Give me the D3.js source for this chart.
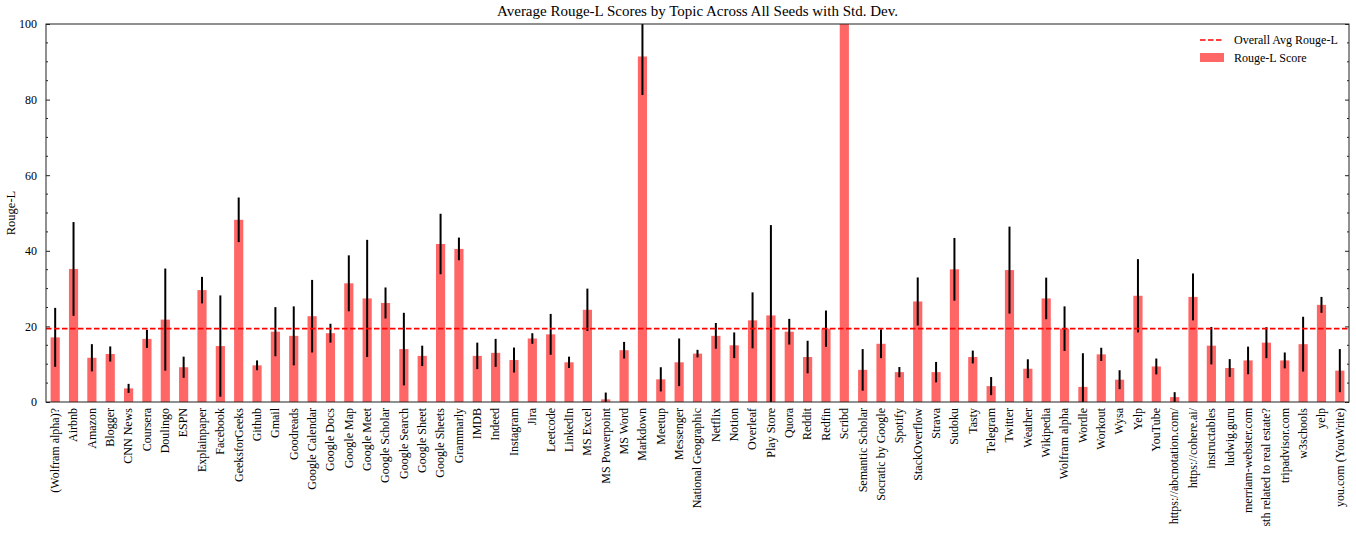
<!DOCTYPE html>
<html>
<head>
<meta charset="utf-8">
<script src="https://cdn.jsdelivr.net/npm/d3@7"></script>
<style>
  body { margin: 0; background: #fff; }
  svg, svg text { font-family: "Liberation Serif", "DejaVu Serif", serif; }
  .eje path { stroke: #222; }
  .eje line { stroke: #222; }
  .eje text { font-size: 12px; fill: #000; font-family: "Liberation Serif", serif; }
</style>
</head>
<body>
<div id="graf"></div>
<script>
// datos
var temas = ['(Wolfram alpha)?', 'Airbnb', 'Amazon', 'Blogger', 'CNN News', 'Coursera', 'Doulingo', 'ESPN',
  'Explainpaper', 'Facebook', 'GeeksforGeeks', 'Github', 'Gmail', 'Goodreads', 'Google Calendar', 'Google Docs',
  'Google Map', 'Google Meet', 'Google Scholar', 'Google Search', 'Google Sheet', 'Google Sheets', 'Grammarly',
  'IMDB', 'Indeed', 'Instagram', 'Jira', 'Leetcode', 'LinkedIn', 'MS Excel', 'MS Powerpoint', 'MS Word',
  'Markdown', 'Meetup', 'Messenger', 'National Geographic', 'Netflix', 'Notion', 'Overleaf', 'Play Store',
  'Quora', 'Reddit', 'Redfin', 'Scribd', 'Semantic Scholar', 'Socratic by Google', 'Spotify', 'StackOverflow',
  'Strava', 'Sudoku', 'Tasty', 'Telegram', 'Twitter', 'Weather', 'Wikipedia', 'Wolfram alpha', 'Wordle',
  'Workout', 'Wysa', 'Yelp', 'YouTube', 'https://abcnotation.com/', 'https://cohere.ai/', 'instructables',
  'ludwig.guru', 'merriam-webster.com', 'sth related to real estate?', 'tripadvisor.com', 'w3schools', 'yelp',
  'you.com (YouWrite)']

var rougeL = [17.1, 35.2, 11.7, 12.7, 3.6, 16.7, 21.8, 9.2, 29.6, 14.8,
  48.2, 9.7, 18.6, 17.5, 22.7, 18.2, 31.4, 27.4, 26.2, 14.0,
  12.2, 41.8, 40.5, 12.2, 13.0, 11.1, 16.8, 17.9, 10.5, 24.4,
  0.7, 13.7, 91.4, 6.0, 10.5, 12.8, 17.5, 15.0, 21.6, 22.9,
  18.6, 11.9, 19.4, 100, 8.5, 15.4, 7.9, 26.6, 7.9, 35.1,
  11.9, 4.2, 34.9, 8.8, 27.4, 19.4, 4.0, 12.6, 5.9, 28.1,
  9.4, 1.3, 27.8, 14.9, 9.0, 11.0, 15.7, 11.0, 15.3, 25.7, 8.3]

var desv = [7.8, 12.4, 3.6, 2.0, 1.2, 2.4, 13.5, 2.8, 3.5, 13.4,
  5.9, 1.3, 6.5, 7.8, 9.6, 2.5, 7.4, 15.5, 4.1, 9.6,
  2.7, 8.0, 3.0, 3.5, 3.7, 3.3, 1.4, 5.4, 1.5, 5.6,
  1.8, 2.2, 10.2, 3.2, 6.3, 1.0, 3.4, 3.4, 7.4, 23.9,
  3.4, 4.3, 4.8, 0, 5.5, 3.8, 1.35, 6.35, 2.7, 8.3,
  1.7, 2.4, 11.5, 2.5, 5.5, 5.9, 8.9, 1.75, 2.5, 9.7,
  2.1, 1.3, 6.2, 4.95, 2.35, 3.65, 4.1, 2.1, 7.25, 2.1, 5.7]

var promedioGeneral = 19.4
var yTicks = [0, 20, 40, 60, 80, 100]

var ancho_total = 1356, alto_total = 533
var margins = { top: 24, left: 46, right: 7, bottom: 131 }
var ancho = ancho_total - margins.left - margins.right
var alto = alto_total - margins.top - margins.bottom
var colorBarra = '#ff6666'

var datos = temas.map((t, i) => ({ tema: t, valor: rougeL[i], sd: desv[i] }))

var svg = d3.select('#graf').append('svg')
  .attr('width', ancho_total)
  .attr('height', alto_total)

var g = svg.append('g')
  .attr('transform', `translate(${margins.left}, ${margins.top})`)

svg.append('defs').append('clipPath').attr('id', 'recorte')
  .append('rect').attr('width', ancho).attr('height', alto)

var x = d3.scaleBand()
  .domain(temas)
  .range([0, ancho])
  .paddingInner(0.5)
  .paddingOuter(0.25)

var y = d3.scaleLinear()
  .domain([0, 100])
  .range([alto, 0])

var zona = g.append('g').attr('clip-path', 'url(#recorte)')

// barras
zona.selectAll('rect.barra')
  .data(datos)
  .enter().append('rect')
    .attr('class', 'barra')
    .attr('x', d => x(d.tema))
    .attr('y', d => y(d.valor))
    .attr('width', x.bandwidth())
    .attr('height', d => alto - y(d.valor))
    .attr('fill', colorBarra)

// barras de error
zona.selectAll('line.error')
  .data(datos.filter(d => d.sd > 0))
  .enter().append('line')
    .attr('class', 'error')
    .attr('x1', d => x(d.tema) + x.bandwidth() / 2)
    .attr('x2', d => x(d.tema) + x.bandwidth() / 2)
    .attr('y1', d => y(d.valor - d.sd))
    .attr('y2', d => y(d.valor + d.sd))
    .attr('stroke', '#000')
    .attr('stroke-width', 2)

// línea de promedio
zona.append('line')
  .attr('x1', 0).attr('x2', ancho)
  .attr('y1', y(promedioGeneral)).attr('y2', y(promedioGeneral))
  .attr('stroke', '#ff0000')
  .attr('stroke-width', 1.6)
  .attr('stroke-dasharray', '5.5,2.5')

// ejes
var yAxisCall = d3.axisLeft(y).tickValues(yTicks).tickSizeInner(-4).tickSizeOuter(0).tickPadding(9)
var yAxisGroup = g.append('g').attr('class', 'eje').call(yAxisCall)
yAxisGroup.select('.domain').remove()

var yRight = d3.axisRight(y).tickValues(yTicks).tickSizeInner(-4).tickSizeOuter(0).tickFormat('')
var yRightGroup = g.append('g').attr('class', 'eje')
  .attr('transform', `translate(${ancho}, 0)`)
  .call(yRight)
yRightGroup.select('.domain').remove()

// ticks menores
var menores = d3.range(0, 101, 5).filter(v => v % 20 != 0)
g.selectAll('line.menor')
  .data(menores.concat(menores))
  .enter().append('line')
    .attr('x1', (d, i) => i < menores.length ? 0 : ancho)
    .attr('x2', (d, i) => i < menores.length ? 2 : ancho - 2)
    .attr('y1', d => y(d)).attr('y2', d => y(d))
    .attr('stroke', '#222')

var xAxisCall = d3.axisBottom(x).tickSize(0).tickPadding(6)
var xAxisGroup = g.append('g')
  .attr('class', 'eje')
  .attr('transform', `translate(0, ${alto})`)
  .call(xAxisCall)
xAxisGroup.select('.domain').remove()
xAxisGroup.selectAll('text')
  .attr('x', -6)
  .attr('y', 0)
  .attr('dy', '0.32em')
  .attr('text-anchor', 'end')
  .attr('transform', 'rotate(-90)')

// marco
g.append('rect')
  .attr('width', ancho).attr('height', alto)
  .attr('fill', 'none')
  .attr('stroke', '#222')
  .attr('stroke-width', 1)

// títulos
svg.append('text')
  .attr('x', margins.left + ancho / 2)
  .attr('y', 16)
  .attr('text-anchor', 'middle')
  .style('font-size', '15px')
  .text('Average Rouge-L Scores by Topic Across All Seeds with Std. Dev.')

svg.append('text')
  .attr('transform', `translate(15, ${margins.top + alto / 2}) rotate(-90)`)
  .attr('text-anchor', 'middle')
  .style('font-size', '12.5px')
  .text('Rouge-L')

// leyenda
var leyenda = svg.append('g').attr('transform', 'translate(1200, 40)')
leyenda.append('line')
  .attr('x1', 0).attr('x2', 24).attr('y1', 0).attr('y2', 0)
  .attr('stroke', '#ff0000').attr('stroke-width', 1.6)
  .attr('stroke-dasharray', '5.5,2.5')
leyenda.append('text')
  .attr('x', 34).attr('y', 0).attr('dy', '0.35em')
  .style('font-size', '12px')
  .text('Overall Avg Rouge-L')
leyenda.append('rect')
  .attr('x', 0).attr('y', 13).attr('width', 24).attr('height', 9)
  .attr('fill', colorBarra)
leyenda.append('text')
  .attr('x', 34).attr('y', 18).attr('dy', '0.35em')
  .style('font-size', '12px')
  .text('Rouge-L Score')
</script>
</body>
</html>
